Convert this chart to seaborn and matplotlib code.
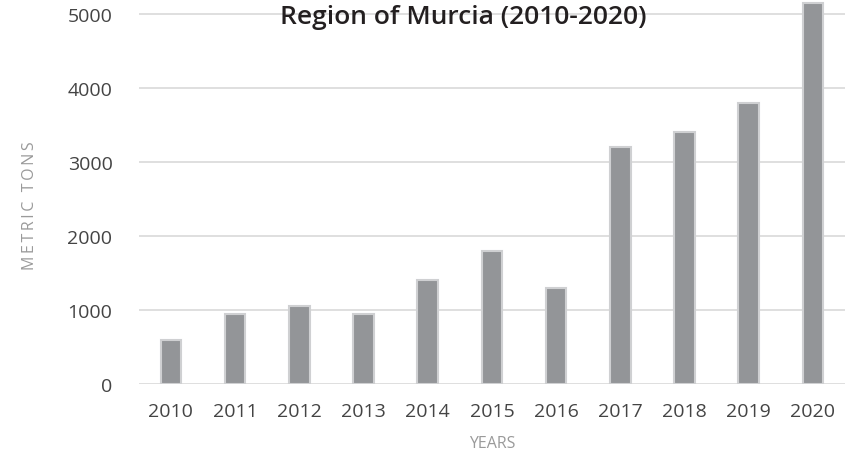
import pandas as pd
from matplotlib import pyplot as plt
import seaborn as sns

# values (metric tons per year)
years = ['2010', '2011', '2012', '2013', '2014', '2015', '2016', '2017', '2018', '2019', '2020']
tons = [600, 950, 1050, 950, 1400, 1800, 1300, 3200, 3400, 3800, 5150]
yticks = [0, 1000, 2000, 3000, 4000, 5000]

df = pd.DataFrame({'year': years, 'tons': tons})

sns.set_style("white")
plt.rcParams['font.family'] = ['Open Sans', 'DejaVu Sans']

fig = plt.figure(figsize=(8.57, 4.6), dpi=100)
ax = fig.add_axes([0.162, 0.163, 0.824, 0.837])

sns.barplot(data=df, x='year', y='tons', color='#939598', saturation=1,
            width=0.32, edgecolor='#cfd0d2', linewidth=1.5, ax=ax, zorder=3)

ax.set_ylim(0, 5200)
ax.set_yticks(yticks)
ax.yaxis.grid(True, color='#d9d9d9', linewidth=1.2, zorder=0)
ax.set_axisbelow(True)
sns.despine(ax=ax, left=True, bottom=True, top=True, right=True)
ax.tick_params(axis='both', length=0, labelsize=14, labelcolor='#444444')
ax.tick_params(axis='y', pad=19)
ax.tick_params(axis='x', pad=13)

ax.set_xlabel('YEARS', fontsize=11.5, color='#9a9a9a', labelpad=11)
# letter-spaced like the original
ax.set_ylabel('\u2009'.join('METRIC') + '\u2009 \u2009' + '\u2009'.join('TONS'),
              fontsize=11.5, color='#9a9a9a')
ax.yaxis.set_label_coords(-0.143, 0.465)

fig.text(0.541, 0.962, 'Region of Murcia (2010-2020)', ha='center', va='center',
         fontsize=19, fontweight='semibold', color='#231f20')

fig.savefig('out.png', dpi=100)
